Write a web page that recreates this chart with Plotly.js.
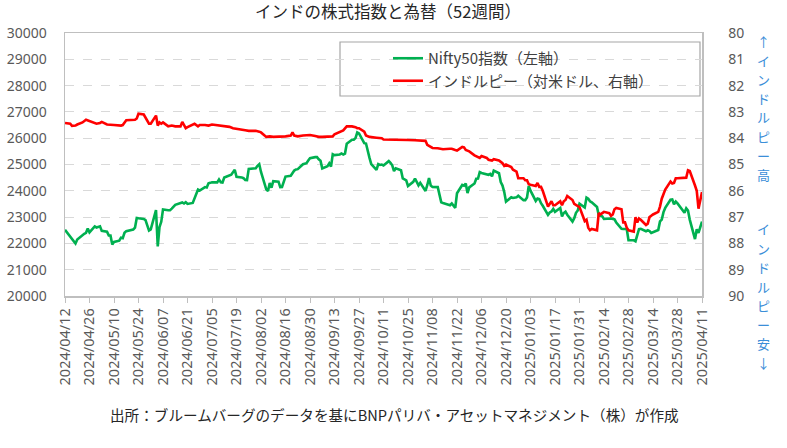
<!DOCTYPE html>
<html>
<head>
<meta charset="utf-8">
<script src="https://cdn.plot.ly/plotly-3.0.1.min.js"></script>
<style>
  body { margin: 0; background: #fff; }
  #chart { width: 787px; height: 448px; }
</style>
</head>
<body>
<div id="chart"></div>
<script>
// Nifty50 index (left axis)
const niftyDates = [
  '2024-04-12','2024-04-15','2024-04-16','2024-04-18','2024-04-19','2024-04-22','2024-04-23','2024-04-24','2024-04-25','2024-04-26',
  '2024-04-29','2024-04-30','2024-05-02','2024-05-03','2024-05-06','2024-05-07','2024-05-08','2024-05-09','2024-05-10','2024-05-13',
  '2024-05-14','2024-05-15','2024-05-16','2024-05-17','2024-05-21','2024-05-22','2024-05-23','2024-05-24','2024-05-27','2024-05-28',
  '2024-05-29','2024-05-30','2024-05-31','2024-06-03','2024-06-04','2024-06-05','2024-06-06','2024-06-07','2024-06-10','2024-06-11',
  '2024-06-12','2024-06-13','2024-06-14','2024-06-18','2024-06-19','2024-06-20','2024-06-21','2024-06-24','2024-06-25','2024-06-26',
  '2024-06-27','2024-06-28','2024-07-01','2024-07-02','2024-07-03','2024-07-04','2024-07-05','2024-07-08','2024-07-09','2024-07-10',
  '2024-07-11','2024-07-12','2024-07-15','2024-07-16','2024-07-18','2024-07-19','2024-07-22','2024-07-23','2024-07-24','2024-07-25',
  '2024-07-26','2024-07-29','2024-07-30','2024-07-31','2024-08-01','2024-08-02','2024-08-05','2024-08-06','2024-08-07','2024-08-08',
  '2024-08-09','2024-08-12','2024-08-13','2024-08-14','2024-08-16','2024-08-19','2024-08-20','2024-08-21','2024-08-22','2024-08-23',
  '2024-08-26','2024-08-27','2024-08-28','2024-08-29','2024-08-30','2024-09-02','2024-09-03','2024-09-04','2024-09-05','2024-09-06',
  '2024-09-09','2024-09-10','2024-09-11','2024-09-12','2024-09-13','2024-09-16','2024-09-17','2024-09-18','2024-09-19','2024-09-20',
  '2024-09-23','2024-09-24','2024-09-25','2024-09-26','2024-09-27','2024-09-30','2024-10-01','2024-10-03','2024-10-04','2024-10-07',
  '2024-10-08','2024-10-09','2024-10-10','2024-10-11','2024-10-14','2024-10-15','2024-10-16','2024-10-17','2024-10-18','2024-10-21',
  '2024-10-22','2024-10-23','2024-10-24','2024-10-25','2024-10-28','2024-10-29','2024-10-30','2024-10-31','2024-11-01','2024-11-04',
  '2024-11-05','2024-11-06','2024-11-07','2024-11-08','2024-11-11','2024-11-12','2024-11-13','2024-11-14','2024-11-18','2024-11-19',
  '2024-11-21','2024-11-22','2024-11-25','2024-11-26','2024-11-27','2024-11-28','2024-11-29','2024-12-02','2024-12-03','2024-12-04',
  '2024-12-05','2024-12-06','2024-12-09','2024-12-10','2024-12-11','2024-12-12','2024-12-13','2024-12-16','2024-12-17','2024-12-18',
  '2024-12-19','2024-12-20','2024-12-23','2024-12-24','2024-12-26','2024-12-27','2024-12-30','2024-12-31','2025-01-01','2025-01-02',
  '2025-01-03','2025-01-06','2025-01-07','2025-01-08','2025-01-09','2025-01-10','2025-01-13','2025-01-14','2025-01-15','2025-01-16',
  '2025-01-17','2025-01-20','2025-01-21','2025-01-22','2025-01-23','2025-01-24','2025-01-27','2025-01-28','2025-01-29','2025-01-30',
  '2025-01-31','2025-02-03','2025-02-04','2025-02-05','2025-02-06','2025-02-07','2025-02-10','2025-02-11','2025-02-12','2025-02-13',
  '2025-02-14','2025-02-17','2025-02-18','2025-02-19','2025-02-20','2025-02-21','2025-02-24','2025-02-25','2025-02-27','2025-02-28',
  '2025-03-03','2025-03-04','2025-03-05','2025-03-06','2025-03-07','2025-03-10','2025-03-11','2025-03-12','2025-03-13','2025-03-17',
  '2025-03-18','2025-03-19','2025-03-20','2025-03-21','2025-03-24','2025-03-25','2025-03-26','2025-03-27','2025-03-28','2025-04-01',
  '2025-04-02','2025-04-03','2025-04-04','2025-04-07','2025-04-08','2025-04-09','2025-04-11'
];
const niftyValues = [
  22519,22273,22148,21996,22147,22336,22368,22402,22570,22420,
  22643,22605,22648,22476,22442,22303,22302,21958,22055,22104,
  22218,22201,22404,22466,22529,22598,22968,22957,22932,22888,
  22704,22488,22531,23264,21884,22620,22821,23290,23259,23265,
  23323,23399,23466,23558,23516,23567,23501,23538,23721,23868,
  24044,24011,24142,24124,24286,24302,24324,24320,24433,24324,
  24316,24502,24587,24613,24801,24531,24509,24479,24413,24406,
  24835,24836,24857,24951,25011,24718,24056,23993,24297,24117,
  24368,24347,24139,24144,24541,24573,24699,24771,24811,24823,
  25010,25017,25052,25152,25236,25279,25280,25199,25145,24852,
  24936,25041,24918,25389,25357,25383,25419,25377,25416,25791,
  25939,25940,26004,26216,26179,25811,25797,25251,25015,24796,
  25013,24982,24998,24964,25128,25058,24971,24750,24854,24781,
  24472,24435,24399,24181,24339,24467,24341,24205,24304,23995,
  24213,24484,24199,24148,24141,23883,23559,23533,23453,23518,
  23349,23907,24222,24194,24275,23914,24131,24276,24457,24467,
  24708,24678,24620,24610,24642,24549,24768,24668,24336,24199,
  23952,23588,23754,23728,23750,23814,23645,23645,23743,24189,
  24005,23616,23708,23689,23527,23432,23086,23176,23213,23312,
  23203,23345,23025,23155,23206,23092,22829,22958,23163,23250,
  23508,23362,23739,23696,23603,23560,23382,23072,23046,23031,
  22929,22960,22945,22933,22913,22796,22553,22548,22545,22125,
  22119,22083,22337,22545,22553,22461,22498,22471,22397,22509,
  22834,22907,23191,23350,23658,23669,23487,23592,23519,23165,
  23332,23250,22904,22162,22536,22399,22829
];

// Indian rupee per US dollar (right axis, reversed)
const inrDates = [
  '2024-04-12','2024-04-15','2024-04-16','2024-04-18','2024-04-19','2024-04-22','2024-04-24','2024-04-26','2024-04-29','2024-04-30',
  '2024-05-02','2024-05-03','2024-05-06','2024-05-08','2024-05-10','2024-05-14','2024-05-15','2024-05-17','2024-05-21','2024-05-22',
  '2024-05-23','2024-05-24','2024-05-27','2024-05-28','2024-05-29','2024-05-30','2024-05-31','2024-06-03','2024-06-04','2024-06-05',
  '2024-06-06','2024-06-07','2024-06-10','2024-06-12','2024-06-14','2024-06-17','2024-06-18','2024-06-19','2024-06-20','2024-06-21',
  '2024-06-24','2024-06-25','2024-06-27','2024-06-28','2024-07-01','2024-07-03','2024-07-05','2024-07-08','2024-07-10','2024-07-12',
  '2024-07-15','2024-07-17','2024-07-19','2024-07-22','2024-07-24','2024-07-26','2024-07-30','2024-08-01','2024-08-02','2024-08-05',
  '2024-08-07','2024-08-09','2024-08-13','2024-08-16','2024-08-19','2024-08-20','2024-08-21','2024-08-23','2024-08-26','2024-08-28',
  '2024-08-30','2024-09-02','2024-09-04','2024-09-06','2024-09-10','2024-09-12','2024-09-13','2024-09-16','2024-09-18','2024-09-20',
  '2024-09-23','2024-09-25','2024-09-26','2024-09-27','2024-09-30','2024-10-01','2024-10-03','2024-10-07','2024-10-10','2024-10-11',
  '2024-10-15','2024-10-18','2024-10-22','2024-10-25','2024-10-29','2024-11-01','2024-11-04','2024-11-05','2024-11-08','2024-11-11',
  '2024-11-12','2024-11-14','2024-11-18','2024-11-19','2024-11-21','2024-11-22','2024-11-25','2024-11-26','2024-11-27','2024-11-28',
  '2024-11-29','2024-12-02','2024-12-04','2024-12-05','2024-12-06','2024-12-09','2024-12-10','2024-12-12','2024-12-13','2024-12-16',
  '2024-12-17','2024-12-18','2024-12-19','2024-12-20','2024-12-23','2024-12-24','2024-12-26','2024-12-27','2024-12-30','2024-12-31',
  '2025-01-01','2025-01-02','2025-01-03','2025-01-06','2025-01-07','2025-01-08','2025-01-09','2025-01-10','2025-01-13','2025-01-14',
  '2025-01-15','2025-01-16','2025-01-17','2025-01-20','2025-01-21','2025-01-22','2025-01-23','2025-01-24','2025-01-27','2025-01-28',
  '2025-01-29','2025-01-30','2025-01-31','2025-02-03','2025-02-04','2025-02-05','2025-02-06','2025-02-07','2025-02-10','2025-02-11',
  '2025-02-12','2025-02-13','2025-02-14','2025-02-17','2025-02-18','2025-02-19','2025-02-20','2025-02-21','2025-02-24','2025-02-25',
  '2025-02-26','2025-02-27','2025-02-28','2025-03-03','2025-03-04','2025-03-05','2025-03-06','2025-03-07','2025-03-10','2025-03-11',
  '2025-03-12','2025-03-13','2025-03-14','2025-03-17','2025-03-18','2025-03-19','2025-03-20','2025-03-21','2025-03-24','2025-03-25',
  '2025-03-26','2025-03-27','2025-03-28','2025-04-01','2025-04-02','2025-04-03','2025-04-04','2025-04-07','2025-04-08','2025-04-09',
  '2025-04-11'
];
const inrValues = [
  83.42,83.45,83.53,83.52,83.48,83.40,83.30,83.35,83.40,83.45,
  83.42,83.38,83.48,83.50,83.50,83.52,83.50,83.32,83.30,83.30,
  83.25,83.07,83.10,83.20,83.35,83.45,83.45,83.14,83.52,83.40,
  83.45,83.40,83.55,83.52,83.55,83.55,83.38,83.50,83.62,83.58,
  83.48,83.45,83.55,83.50,83.50,83.52,83.48,83.50,83.52,83.55,
  83.57,83.62,83.65,83.68,83.70,83.72,83.72,83.75,83.78,83.95,
  83.93,83.95,83.95,83.93,83.90,83.78,83.90,83.93,83.90,83.88,
  83.88,83.92,83.95,83.95,83.95,83.93,83.85,83.75,83.70,83.55,
  83.55,83.58,83.62,83.62,83.75,83.90,83.95,83.98,84.00,84.05,
  84.05,84.07,84.07,84.07,84.08,84.08,84.10,84.25,84.37,84.38,
  84.40,84.42,84.40,84.40,84.45,84.47,84.33,84.35,84.45,84.47,
  84.50,84.65,84.72,84.75,84.68,84.75,84.82,84.85,84.80,84.85,
  84.90,84.95,85.05,85.00,85.10,85.20,85.27,85.52,85.52,85.60,
  85.60,85.75,85.77,85.82,85.70,85.85,85.85,86.00,86.60,86.50,
  86.40,86.55,86.55,86.40,86.55,86.40,86.35,86.20,86.35,86.50,
  86.55,86.60,86.62,87.15,87.10,87.40,87.50,87.45,87.50,86.85,
  86.90,86.85,86.80,86.85,86.95,86.90,86.70,86.65,86.70,87.20,
  87.20,87.40,87.50,87.55,87.00,87.20,87.05,87.10,87.30,87.25,
  87.00,86.95,86.90,86.80,86.60,86.30,86.10,85.95,85.65,85.72,
  85.70,85.52,85.52,85.52,85.50,85.22,85.25,85.80,86.00,86.68,
  86.05
];

const tickDates = [
  '2024-04-12','2024-04-26','2024-05-10','2024-05-24','2024-06-07','2024-06-21','2024-07-05','2024-07-19','2024-08-02',
  '2024-08-16','2024-08-30','2024-09-13','2024-09-27','2024-10-11','2024-10-25','2024-11-08','2024-11-22','2024-12-06',
  '2024-12-20','2025-01-03','2025-01-17','2025-01-31','2025-02-14','2025-02-28','2025-03-14','2025-03-28','2025-04-11'
];
const tickLabels = tickDates.map(d => d.replace(/-/g, '/'));

const upNote = ['↑','イ','ン','ド','ル','ピ','ー','高'];
const downNote = ['イ','ン','ド','ル','ピ','ー','安','↓'];

const jp = '"Noto Sans CJK JP", "Noto Sans", sans-serif';
const gray = '#595959';

// plot box in pixels, used to place the side notes and legend frame
const box = { left: 65, right: 702, top: 33, bottom: 296 };
function px2paperX(px) { return (px - box.left) / (box.right - box.left); }
function px2paperY(py) { return (box.bottom - py) / (box.bottom - box.top); }

const annotations = [];
upNote.forEach((ch, i) => {
  annotations.push({ text: ch, xref: 'paper', yref: 'paper', x: px2paperX(763), y: px2paperY(41 + i * 19),
    showarrow: false, font: { family: jp, size: 13, color: '#3b8ed8' }, xanchor: 'center', yanchor: 'middle' });
});
downNote.forEach((ch, i) => {
  annotations.push({ text: ch, xref: 'paper', yref: 'paper', x: px2paperX(763), y: px2paperY(229 + i * 19),
    showarrow: false, font: { family: jp, size: 13, color: '#3b8ed8' }, xanchor: 'center', yanchor: 'middle' });
});
annotations.push({
  text: '出所：ブルームバーグのデータを基にBNPパリバ・アセットマネジメント（株）が作成',
  xref: 'paper', yref: 'paper', x: px2paperX(395), y: px2paperY(414),
  showarrow: false, font: { family: jp, size: 14.6, color: '#262626' }, xanchor: 'center', yanchor: 'middle'
});

const traces = [
  {
    x: niftyDates, y: niftyValues, name: 'Nifty50指数（左軸）',
    type: 'scatter', mode: 'lines', yaxis: 'y',
    line: { color: '#00B050', width: 2.6 }
  },
  {
    x: inrDates, y: inrValues, name: 'インドルピー（対米ドル、右軸）',
    type: 'scatter', mode: 'lines', yaxis: 'y2',
    line: { color: '#FF0000', width: 2.6 }
  }
];

const layout = {
  width: 787, height: 448,
  margin: { l: box.left, r: 787 - box.right, t: box.top, b: 448 - box.bottom, pad: 0 },
  paper_bgcolor: '#fff', plot_bgcolor: '#fff',
  font: { family: jp, color: gray },
  title: {
    text: 'インドの株式指数と為替（52週間）',
    font: { family: jp, size: 16.5, color: '#262626' },
    x: 0.493, xanchor: 'center', y: 1 - 12 / 448, yanchor: 'middle'
  },
  showlegend: true,
  legend: {
    x: px2paperX(388), y: px2paperY(42), xanchor: 'left', yanchor: 'top',
    bgcolor: 'rgba(0,0,0,0)', borderwidth: 0,
    font: { family: jp, size: 15, color: '#404040' }
  },
  shapes: [
    // legend frame
    { type: 'rect', xref: 'paper', yref: 'paper', layer: 'below',
      x0: px2paperX(340), x1: px2paperX(700), y0: px2paperY(96), y1: px2paperY(42),
      line: { color: '#A6A6A6', width: 1.2 }, fillcolor: '#fff' }
  ],
  xaxis: {
    type: 'date',
    range: ['2024-04-12', '2025-04-11'],
    tickvals: tickDates, ticktext: tickLabels,
    tickangle: -90,
    tickfont: { family: '"Noto Sans", sans-serif', size: 14.5, color: gray },
    ticks: 'outside', ticklen: 5, tickcolor: '#BFBFBF',
    showgrid: false, showline: true, linecolor: '#BFBFBF', linewidth: 1.5, mirror: true,
    zeroline: false
  },
  yaxis: {
    range: [20000, 30000], dtick: 1000, tick0: 20000, tickformat: 'd',
    tickfont: { family: '"Noto Sans", sans-serif', size: 14, color: gray },
    ticks: '', ticklabelstandoff: 14,
    showgrid: true, gridcolor: '#D9D9D9', griddash: 'dash', gridwidth: 1,
    showline: true, linecolor: '#BFBFBF', linewidth: 1.5,
    zeroline: false
  },
  yaxis2: {
    overlaying: 'y', side: 'right',
    range: [90, 80], dtick: 1, tick0: 80, tickformat: 'd',
    tickfont: { family: '"Noto Sans", sans-serif', size: 14, color: gray },
    ticks: '', ticklabelstandoff: 22,
    showgrid: false, showline: true, linecolor: '#BFBFBF', linewidth: 1.5,
    zeroline: false
  },
  annotations: annotations
};

Plotly.newPlot('chart', traces, layout, { displayModeBar: false, staticPlot: true });
</script>
</body>
</html>
